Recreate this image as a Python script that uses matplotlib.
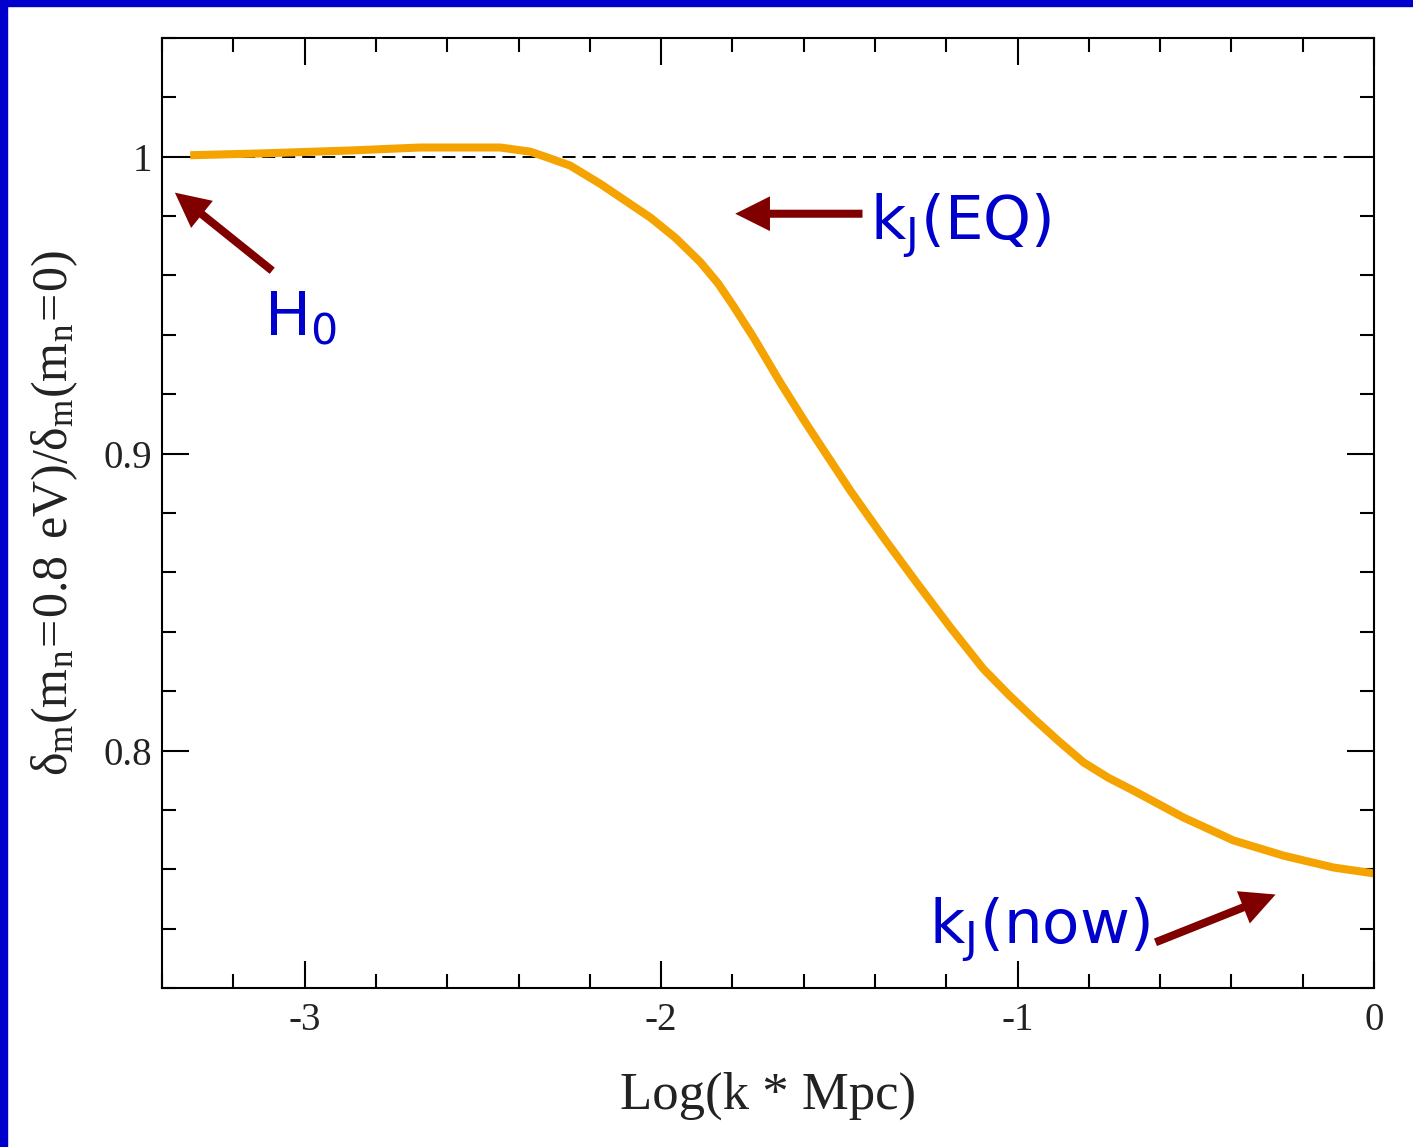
"""
Neutrino-mass suppression of the matter density contrast vs. wavenumber.
"""
import matplotlib

matplotlib.use("Agg")
import matplotlib.pyplot as plt
from matplotlib.patches import FancyArrowPatch, Rectangle
from matplotlib.ticker import MultipleLocator

# log10(k * Mpc) and delta_m(0.8 eV) / delta_m(0)
log_k = [-3.321, -3.125, -2.872, -2.676, -2.451, -2.367, -2.325, -2.255,
         -2.171, -2.030, -1.960, -1.890, -1.840, -1.797, -1.740, -1.665,
         -1.600, -1.562, -1.469, -1.376, -1.281, -1.188, -1.096, -1.025,
         -0.955, -0.885, -0.815, -0.745, -0.675, -0.534, -0.394, -0.254,
         -0.114, 0.0]
ratio = [1.0005, 1.0011, 1.0021, 1.0031, 1.0031, 1.0017, 1.0000, 0.9970,
         0.9909, 0.9795, 0.9727, 0.9645, 0.9573, 0.9497, 0.9390, 0.9238,
         0.9114, 0.9044, 0.8875, 0.8717, 0.8562, 0.8414, 0.8275, 0.8188,
         0.8108, 0.8032, 0.7960, 0.7908, 0.7865, 0.7774, 0.7697, 0.7646,
         0.7606, 0.7586]

REFERENCE = 1.0

# arrow annotations: label, text anchor, arrow tail, arrow tip (data coords)
labels = ["H$_\\mathregular{0}$", "k$_\\mathregular{J}$(EQ)", "k$_\\mathregular{J}$(now)"]
label_xy = [(-3.113, 0.9398), (-1.415, 0.9721), (-1.248, 0.7351)]
arrow_tail = [(-3.091, 0.9616), (-1.435, 0.9808), (-0.613, 0.7354)]
arrow_tip = [(-3.364, 0.9879), (-1.792, 0.9808), (-0.276, 0.7515)]

ORANGE = "#F5A300"
DARK_RED = "#800000"
BLUE = "#0000CC"

fig = plt.figure(figsize=(14.13, 11.47), dpi=100)
ax = fig.add_axes([0.1147, 0.1386, 0.8577, 0.8283])

ax.axhline(REFERENCE, color="black", linewidth=1.4, dashes=(6.7, 3.6), zorder=1)
ax.plot(log_k, ratio, color=ORANGE, linewidth=5.8, solid_capstyle="butt",
        solid_joinstyle="round", zorder=2)

ax.set_xlim(-3.4, 0.0)
ax.set_ylim(0.72, 1.04)
ax.xaxis.set_major_locator(MultipleLocator(1))
ax.xaxis.set_minor_locator(MultipleLocator(0.2))
ax.yaxis.set_major_locator(MultipleLocator(0.1))
ax.yaxis.set_minor_locator(MultipleLocator(0.02))
ax.xaxis.set_major_formatter(lambda v, pos: f"{v:g}")
ax.yaxis.set_major_formatter(lambda v, pos: f"{v:g}")

serif = "Liberation Serif"
ax.tick_params(which="both", direction="in", top=True, right=True,
               width=1.5, color="black")
ax.tick_params(which="major", length=19.5)
ax.tick_params(which="minor", length=10)
ax.tick_params(axis="x", which="major", pad=10, labelsize=28)
ax.tick_params(axis="y", which="major", pad=7, labelsize=28)
for lab in ax.get_xticklabels() + ax.get_yticklabels():
    lab.set_family(serif)
    lab.set_color("#222222")
for sp in ax.spines.values():
    sp.set_linewidth(1.5)

ax.set_xlabel("Log(k * Mpc)", family=serif, fontsize=38, color="#222222")
ax.xaxis.set_label_coords(0.5, -0.088)
ax.set_ylabel(r"$\mathregular{\delta_m(m_n\!=\!0.8\ eV)/\delta_m(m_n\!=\!0)}$",
              family=serif, fontsize=36, color="#222222")
ax.yaxis.set_label_coords(-0.068, 0.5)

for text, xy, tail, tip in zip(labels, label_xy, arrow_tail, arrow_tip):
    ax.text(xy[0], xy[1], text, color=BLUE, fontsize=44, family="DejaVu Sans")
    ax.add_patch(FancyArrowPatch(
        tail, tip, mutation_scale=1, color=DARK_RED, linewidth=0,
        arrowstyle="simple,head_length=25,head_width=25,tail_width=5.8",
        shrinkA=0, shrinkB=0, zorder=3))

# slide frame strips along the top and left edges
fig.add_artist(Rectangle((0, 0), 7 / 1413, 1, transform=fig.transFigure,
                         color=BLUE, zorder=10))
fig.add_artist(Rectangle((0, 1 - 6 / 1147), 1, 6 / 1147, transform=fig.transFigure,
                         color=BLUE, zorder=10))

fig.savefig("out.png", dpi=100)
